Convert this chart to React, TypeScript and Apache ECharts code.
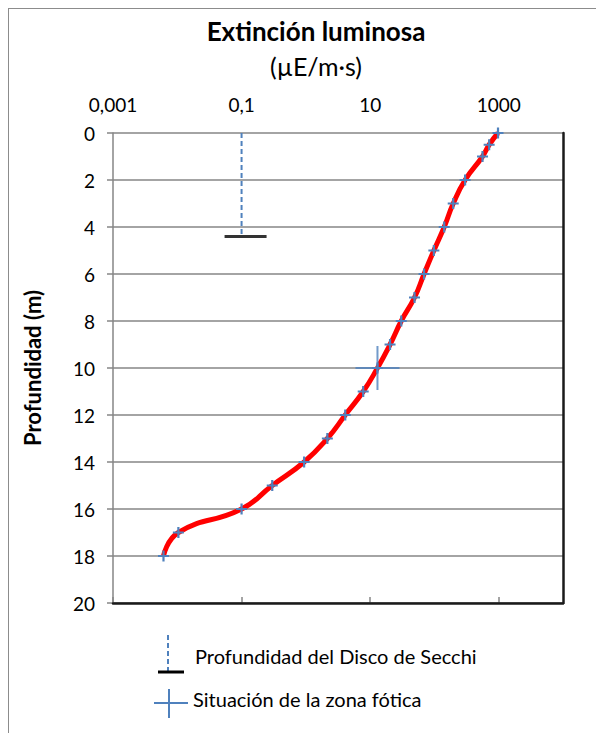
import React, { useEffect, useRef } from 'react';
import * as echarts from 'echarts';

// Profundidad (m) y extinción luminosa (µE/m·s)
const depths = [0, 0.5, 1, 2, 3, 4, 5, 6, 7, 8, 9, 10, 11, 12, 13, 14, 15, 16, 17, 18];
const irradiance = [975, 710, 560, 300, 196, 142, 98, 69, 49, 30.5, 20.4, 13, 7.8, 4.1, 2.16, 0.94, 0.3, 0.1, 0.0104, 0.0061];
// Disco de Secchi
const secchiX = [0.1, 0.1];
const secchiDepth = [0, 4.4];
// Situación de la zona fótica
const photicX = [13];
const photicDepth = [10];
// Etiquetas del eje X (exponentes de 10)
const xTickExps = [-3, -1, 1, 3];
const xTickLabels = ['0,001', '0,1', '10', '1000'];

const FONT = 'Lato, "Noto Sans", sans-serif';
const BLUE = '#4f81bd';
const GRID = '#868686';
const SMALL_PLUS = 'path://M4,0H6V4H10V6H6V10H4V6H0V4H4Z';
const BIG_PLUS = 'path://M21,0H23V21H44V23H23V44H21V23H0V21H21Z';

export default function App() {
  const ref = useRef<HTMLDivElement>(null);
  useEffect(() => {
    if (!ref.current) return;
    const chart = echarts.init(ref.current, undefined, { renderer: 'svg' });
    const option: any = {
      animation: false,
      backgroundColor: '#fff',
      textStyle: { fontFamily: FONT },
      title: {
        text: 'Extinción luminosa',
        subtext: '(µE/m·s)',
        left: 302,
        top: 4,
        textAlign: 'center',
        itemGap: 9,
        textStyle: { fontFamily: FONT, fontSize: 26, fontWeight: 'bold', color: '#000' },
        subtextStyle: { fontFamily: FONT, fontSize: 25, color: '#000' },
      },
      grid: [
        { left: 104, top: 124, width: 450, height: 470 },
        { left: 104, top: 124, width: (450 * 6) / 7, height: 470 },
      ],
      xAxis: [
        {
          gridIndex: 0,
          type: 'log',
          logBase: 10,
          min: 0.001,
          max: 10000,
          position: 'bottom',
          z: 1,
          axisLine: { show: true, onZero: false, lineStyle: { color: '#1a1a1a', width: 2.5 } },
          axisTick: { show: false },
          axisLabel: { show: false },
          splitLine: { show: false },
        },
        {
          gridIndex: 1,
          type: 'value',
          min: -3,
          max: 3,
          interval: 2,
          position: 'top',
          axisLine: { show: false },
          axisTick: { show: true, length: 6, lineStyle: { color: GRID, width: 1.5 } },
          axisLabel: {
            fontFamily: FONT,
            fontSize: 19,
            color: '#000',
            margin: 19,
            formatter: (v: number) => {
              const i = xTickExps.indexOf(Math.round(v));
              return i >= 0 ? xTickLabels[i] : '';
            },
          },
          splitLine: { show: false },
        },
      ],
      yAxis: [
        {
          gridIndex: 0,
          type: 'value',
          inverse: true,
          min: 0,
          max: 20,
          interval: 2,
          position: 'left',
          axisLine: { show: true, onZero: false, lineStyle: { color: GRID, width: 1.5 } },
          axisTick: { show: true, length: 6, lineStyle: { color: GRID, width: 1.5 } },
          axisLabel: { fontFamily: FONT, fontSize: 19, color: '#000', margin: 18 },
          splitLine: { show: true, lineStyle: { color: GRID, width: 1.5 } },
          name: 'Profundidad (m)',
          nameLocation: 'middle',
          nameRotate: 90,
          nameGap: 70,
          nameTextStyle: { fontFamily: FONT, fontSize: 22, fontWeight: 'bold', color: '#000' },
        },
        {
          gridIndex: 0,
          type: 'value',
          inverse: true,
          min: 0,
          max: 20,
          position: 'right',
          z: 1,
          axisLine: { show: true, onZero: false, lineStyle: { color: '#1a1a1a', width: 2.5 } },
          axisTick: { show: false },
          axisLabel: { show: false },
          splitLine: { show: false },
        },
        { gridIndex: 1, type: 'value', min: 0, max: 20, show: false },
      ],
      series: [
        {
          name: 'Profundidad del Disco de Secchi',
          type: 'line',
          xAxisIndex: 0,
          yAxisIndex: 0,
          data: secchiX.map((x, i) => [x, secchiDepth[i]]),
          symbol: 'none',
          lineStyle: { color: BLUE, width: 2, type: [5, 3] },
          z: 2,
        },
        {
          name: 'Límite del Disco de Secchi',
          type: 'scatter',
          xAxisIndex: 0,
          yAxisIndex: 0,
          data: [[secchiX[1], secchiDepth[1]]],
          symbol: 'rect',
          symbolSize: [42, 3],
          symbolOffset: [4, 0],
          itemStyle: { color: '#000' },
          z: 3,
        },
        {
          name: 'Extinción luminosa',
          type: 'line',
          xAxisIndex: 0,
          yAxisIndex: 0,
          data: depths.map((d, i) => [irradiance[i], d]),
          smooth: 0.5,
          lineStyle: { color: '#ff0000', width: 5 },
          symbol: SMALL_PLUS,
          symbolSize: 11,
          itemStyle: { color: BLUE },
          z: 4,
        },
        {
          name: 'Situación de la zona fótica',
          type: 'scatter',
          xAxisIndex: 0,
          yAxisIndex: 0,
          data: photicX.map((x, i) => [x, photicDepth[i]]),
          symbol: BIG_PLUS,
          symbolSize: 44,
          itemStyle: { color: BLUE },
          z: 5,
        },
      ],
      graphic: [
        {
          type: 'line',
          shape: { x1: 159, y1: 626, x2: 159, y2: 663 },
          style: { stroke: BLUE, lineWidth: 2, lineDash: [5, 3] },
        },
        {
          type: 'line',
          shape: { x1: 149, y1: 663, x2: 175, y2: 663 },
          style: { stroke: '#000', lineWidth: 3 },
        },
        {
          type: 'text',
          x: 186,
          y: 647,
          style: {
            text: 'Profundidad del Disco de Secchi',
            fontFamily: FONT,
            fontSize: 20,
            fill: '#000',
            textVerticalAlign: 'middle',
          },
        },
        {
          type: 'line',
          shape: { x1: 145, y1: 694, x2: 179, y2: 694 },
          style: { stroke: BLUE, lineWidth: 2 },
        },
        {
          type: 'line',
          shape: { x1: 160, y1: 680, x2: 160, y2: 709 },
          style: { stroke: BLUE, lineWidth: 2 },
        },
        {
          type: 'text',
          x: 184,
          y: 690,
          style: {
            text: 'Situación de la zona fótica',
            fontFamily: FONT,
            fontSize: 20,
            fill: '#000',
            textVerticalAlign: 'middle',
          },
        },
      ],
    };
    chart.setOption(option);
    return () => chart.dispose();
  }, []);
  return (
    <div
      ref={ref}
      style={{
        width: 595,
        height: 724,
        borderTop: '1px solid #8c8c8c',
        borderLeft: '1px solid #8c8c8c',
      }}
    />
  );
}
